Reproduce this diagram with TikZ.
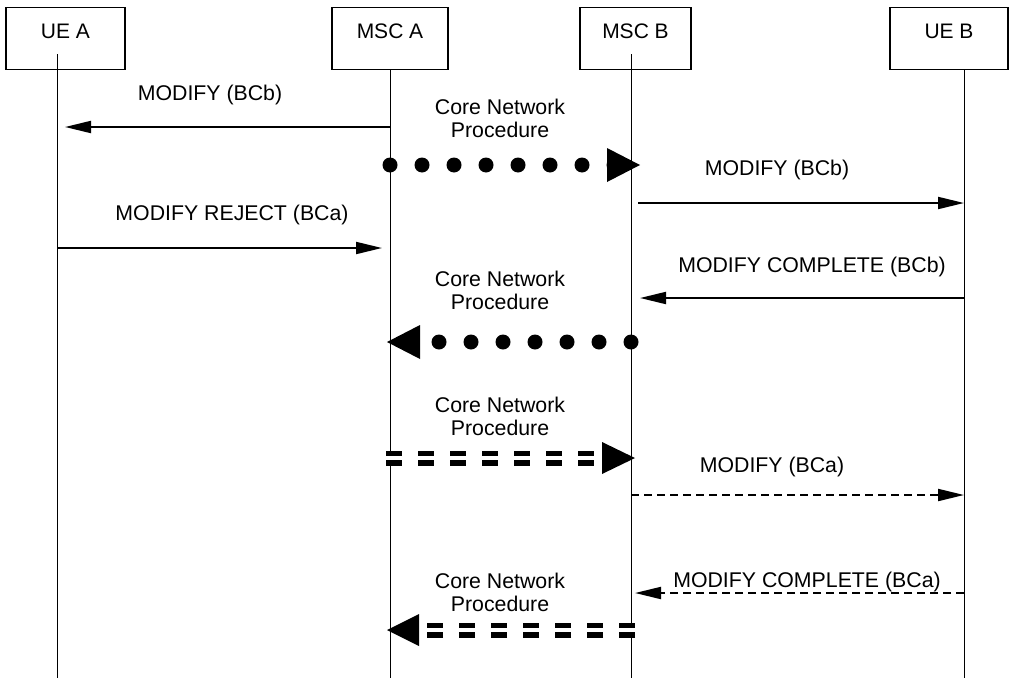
\documentclass[tikz,border=0pt]{standalone}
\usepackage{fontspec}
\setmainfont{Liberation Sans}
\usetikzlibrary{arrows.meta,positioning}

\begin{document}
\begin{tikzpicture}[x=1pt, y=-1pt,
    ent/.style = {draw, line width=1.2pt, minimum height=62pt, anchor=north, text height=15pt, text depth=15pt, font=\fontsize{21}{23}\selectfont},
    life/.style = {line width=1pt},
    msg/.style = {line width=2pt, -{Triangle[length=26pt,width=12pt]}},
    dmsg/.style = {msg, dash pattern=on 8pt off 5pt},
    lbl/.style = {font=\fontsize{21.3}{23}\selectfont, align=center},
    dots/.style = {line width=15pt, line cap=round, dash pattern=on 0pt off 32pt},
    bars/.style = {double, line width=5.5pt, double distance=4pt, dash pattern=on 16pt off 16pt}]

            \useasboundingbox (0,0) rectangle (1019,680);

            \node[ent, minimum width=119pt] (ua) at (65.5,7) {UE A};
            \node[ent, minimum width=116pt] (ma) at (390,7) {MSC A};
            \node[ent, minimum width=111pt] (mb) at (635.5,7) {MSC B};
            \node[ent, minimum width=118pt] (ub) at (949,7) {UE B};

            % lifelines
            \coordinate (uat) at (57,54);
            \coordinate (mat) at (390,69);
            \coordinate (mbt) at (631,54);
            \coordinate (ubt) at (964,69);
            \draw[life] (uat) -- (uat |- 0,678);
            \draw[life] (mat) -- (mat |- 0,678);
            \draw[life] (mbt) -- (mbt |- 0,678);
            \draw[life] (ubt) -- (ubt |- 0,678);

            % points on the lifelines, one row per message
            \foreach \n/\y in {1/127, 2/165, 3/203, 4/248, 5/298, 6/342, 7/458, 8/495, 9/593, 10/630} {
                \coordinate (ua\n) at (uat |- 0,\y);
                \coordinate (ma\n) at (mat |- 0,\y);
                \coordinate (mb\n) at (mbt |- 0,\y);
                \coordinate (ub\n) at (ubt |- 0,\y);
            }

            \node[lbl] (t1) at (210,95) {MODIFY (BCb)};
            \draw[msg, shorten >=8pt] (ma1) -- (ua1);

            \node[lbl] (t2) at (500,118) {Core Network\\Procedure};
            \draw[dots] (ma2) -- ([xshift=-16pt]mb2);
            \fill ([xshift=9pt]mb2) -- ++(-33,-17) -- ++(0,34) -- cycle;

            \node[lbl] (t3) at (777,170) {MODIFY (BCb)};
            \draw[msg, shorten <=7pt] (mb3) -- (ub3);

            \node[lbl] (t4) at (232,215) {MODIFY REJECT (BCa)};
            \draw[msg, shorten >=8pt] (ua4) -- (ma4);

            \node[lbl] (t5) at (812,267) {MODIFY COMPLETE (BCb)};
            \draw[msg, shorten >=9pt] (ub5) -- (mb5);

            \node[lbl] (t6) at (500,290) {Core Network\\Procedure};
            \draw[dots] (mb6) -- ([xshift=47pt]ma6);
            \fill ([xshift=-3pt]ma6) -- ++(33,-17) -- ++(0,34) -- cycle;

            \node[lbl] (t7) at (500,416) {Core Network\\Procedure};
            \draw[bars] ([xshift=-4pt]ma7) -- ([xshift=-30pt]mb7);
            \fill ([xshift=4pt]mb7) -- ++(-33,-16) -- ++(0,32) -- cycle;

            \node[lbl] (t8) at (772,467) {MODIFY (BCa)};
            \draw[dmsg] (mb8) -- (ub8);

            \node[lbl] (t9) at (807,582) {MODIFY COMPLETE (BCa)};
            \draw[dmsg, shorten >=4pt] (ub9) -- (mb9);

            \node[lbl] (t10) at (500,592) {Core Network\\Procedure};
            \draw[bars] ([xshift=4pt]mb10) -- ([xshift=36pt]ma10);
            \fill ([xshift=-3pt]ma10) -- ++(32,-16) -- ++(0,32) -- cycle;

\end{tikzpicture}
\end{document}
